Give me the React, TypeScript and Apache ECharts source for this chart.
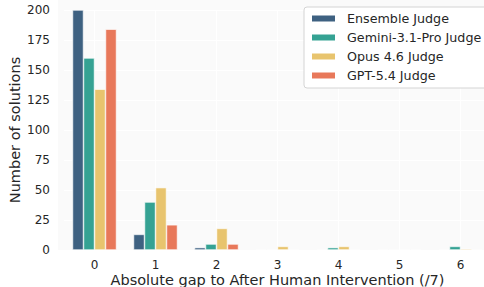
import React, { useEffect, useRef } from "react";
import * as echarts from "echarts";

const categories = ["0", "1", "2", "3", "4", "5", "6"];
const seriesNames = ["Ensemble Judge", "Gemini-3.1-Pro Judge", "Opus 4.6 Judge", "GPT-5.4 Judge"];
const ensembleValues = [200, 13, 2, 0, 0, 0, 0];
const geminiValues = [160, 40, 5, 0, 2, 0, 3];
const opusValues = [134, 52, 18, 3, 3, 0, 1];
const gptValues = [184, 21, 5, 0, 0, 0, 0];
const colors = ["#3e6181", "#35a293", "#e8c46e", "#e8785a"];
const yTicks = { min: 0, max: 200, interval: 25 };

const FONT = "DejaVu Sans";
const TEXT = "#262626";

export default function App() {
  const ref = useRef<HTMLDivElement>(null);
  useEffect(() => {
    if (!ref.current) return;
    const chart = echarts.init(ref.current, undefined, { renderer: "svg" });
    const allValues = [ensembleValues, geminiValues, opusValues, gptValues];
    const series: any[] = allValues.map((vals, i) => ({
      name: seriesNames[i],
      type: "bar",
      data: vals,
      barWidth: 11,
      barGap: "0%",
      z: 3,
      itemStyle: { color: colors[i], borderColor: "#ffffff", borderWidth: 0.6 },
    }));
    series.push({
      name: "__grid",
      type: "line",
      data: categories.map(() => null),
      z: 1,
      silent: true,
      legendHoverLink: false,
      markLine: {
        silent: true,
        symbol: "none",
        label: { show: false },
        lineStyle: { color: "#ffffff", width: 1, type: "solid" },
        data: categories.map((c) => ({ xAxis: c })),
        z: 1,
      },
    });
    chart.setOption({
      animation: false,
      textStyle: { fontFamily: FONT },
      graphic: [
        {
          type: "rect",
          z: -10,
          shape: { x: 58, y: 0, width: 426, height: 250 },
          style: { fill: "#fafafa" },
          silent: true,
        },
      ],
      grid: { left: 64, top: 10, width: 427, height: 240, outerBoundsMode: "none", containLabel: false },
      legend: {
        data: seriesNames,
        orient: "vertical",
        left: 304,
        top: 7,
        padding: [4, 12, 5, 6],
        itemGap: 4,
        itemWidth: 25,
        itemHeight: 8,
        icon: "rect",
        backgroundColor: "#ffffff",
        borderColor: "#d4d4d4",
        borderWidth: 1,
        borderRadius: 3,
        textStyle: { fontFamily: FONT, fontSize: 12.7, color: TEXT, lineHeight: 15, padding: [0, 0, 0, 6] },
      },
      xAxis: {
        type: "category",
        data: categories,
        axisLine: { show: false },
        axisTick: { show: false },
        splitLine: { show: false },
        axisLabel: { fontFamily: FONT, fontSize: 12, color: TEXT, margin: 9 },
        name: "Absolute gap to After Human Intervention (/7)",
        nameLocation: "middle",
        nameGap: 22,
        nameMoveOverlap: false,
        nameTextStyle: { fontFamily: FONT, fontSize: 14.5, color: TEXT },
      },
      yAxis: {
        type: "value",
        min: yTicks.min,
        max: yTicks.max,
        interval: yTicks.interval,
        axisLine: { show: false },
        axisTick: { show: false },
        splitLine: { show: true, lineStyle: { color: "#ffffff", width: 1 } },
        axisLabel: { fontFamily: FONT, fontSize: 12, color: TEXT, margin: 14 },
        name: "Number of solutions",
        nameLocation: "middle",
        nameGap: 42,
        nameMoveOverlap: false,
        nameTextStyle: { fontFamily: FONT, fontSize: 14.5, color: TEXT },
      },
      series,
    });
    return () => chart.dispose();
  }, []);
  return <div ref={ref} style={{ width: 484, height: 287, position: "absolute", left: 0, top: 0 }} />;
}
